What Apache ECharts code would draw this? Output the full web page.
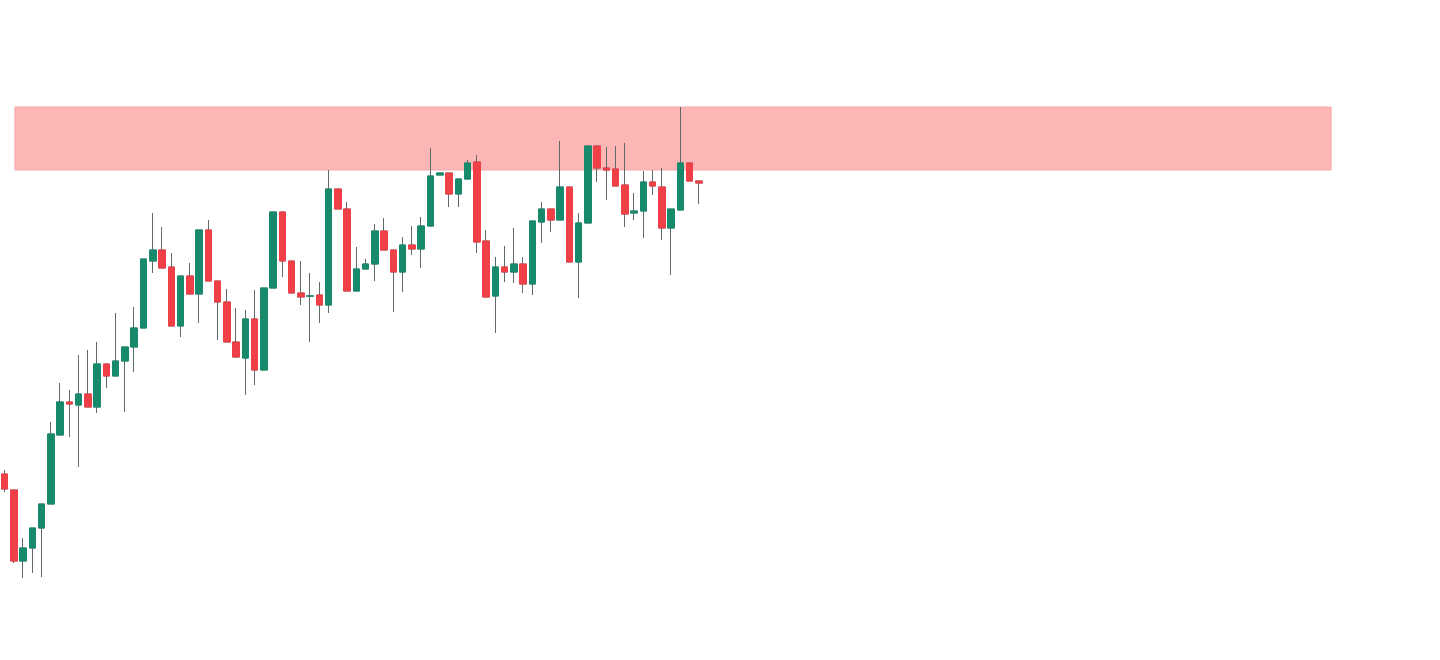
<!DOCTYPE html>
<html>
<head>
<meta charset="utf-8">
<script src="https://cdn.jsdelivr.net/npm/echarts@6/dist/echarts.min.js"></script>
<style>
html,body{margin:0;padding:0;background:#ffffff;}
#chart{width:1440px;height:660px;}
</style>
</head>
<body>
<div id="chart"></div>
<script>
// ---- data ----
var slotCount = 155;
var categories = Array.from({length: slotCount}, function (_, i) { return 'P' + (i + 1); });

var opens  = [186,170,99,112,132,156,225,258,255,266,253,296,284,299,313,332,399,410,393,334,
              384,366,430,379,358,318,302,341,290,372,448,399,367,364,365,355,471,451,369,391,
              396,429,410,388,415,411,434,485,487,466,481,498,419,364,393,388,396,376,438,451,
              440,473,398,437,514,492,491,475,447,449,478,473,432,450,497,479];
var closes = [171,99,112,132,156,226,258,256,266,253,296,284,299,313,332,401,410,392,334,384,
              366,430,379,358,318,303,341,290,372,448,399,367,363,364,355,471,451,369,391,396,
              429,410,388,415,411,434,484,487,466,481,497,418,363,393,388,396,376,439,451,440,
              473,398,437,514,492,490,474,446,449,478,474,432,451,497,479,477];
var lows   = [168,97,82,87,83,156,225,223,193,253,247,272,284,248,288,332,387,392,334,323,
              366,337,379,320,318,303,265,275,290,372,383,367,355,318,337,347,451,369,369,391,
              379,410,348,368,405,392,434,485,453,453,481,407,363,327,378,377,367,365,417,428,
              440,398,362,437,478,460,474,433,440,422,465,420,385,450,479,456];
var highs  = [190,170,122,132,156,238,277,270,305,310,318,296,347,313,353,401,447,433,407,384,
              397,430,440,379,371,352,350,370,372,448,448,399,399,387,378,490,471,458,413,401,
              436,442,410,423,434,443,512,487,487,481,500,505,430,403,414,432,403,439,458,451,
              519,473,447,514,514,513,514,517,467,489,490,492,451,553,497,479];

// resistance zone (price range and span in slot units)
var zoneLow = 490, zoneHigh = 553;
var zoneStart = 1.11, zoneEnd = 143.28;

// ---- build ----
var upColor = '#178a6c', downColor = '#ef3f47', wickColor = '#5f6b6b';
var fullData = opens.map(function (o, i) { return [o, closes[i], lows[i], highs[i]]; });
var bodyData = opens.map(function (o, i) {
  var c = closes[i];
  return [o, c, Math.min(o, c), Math.max(o, c)];
});

var chart = echarts.init(document.getElementById('chart'), null, {renderer: 'canvas'});
chart.setOption({
  animation: false,
  backgroundColor: '#ffffff',
  grid: {left: -2, top: 0, width: 1437, height: 660, containLabel: false},
  xAxis: [
    {type: 'category', data: categories, boundaryGap: true, show: false},
    {type: 'value', min: -0.5, max: slotCount - 0.5, show: false}
  ],
  yAxis: {type: 'value', min: 0, max: 660, show: false, splitLine: {show: false}},
  series: [
    {
      type: 'line', xAxisIndex: 1, data: [[zoneStart, zoneLow], [zoneEnd, zoneLow]],
      symbol: 'none', lineStyle: {opacity: 0}, silent: true, z: 1,
      markArea: {
        silent: true,
        itemStyle: {color: '#fdb6b6', borderColor: '#f7a9ac', borderWidth: 1},
        data: [[{xAxis: zoneStart, yAxis: zoneHigh}, {xAxis: zoneEnd, yAxis: zoneLow}]]
      }
    },
    {
      type: 'candlestick', data: fullData, barWidth: 7, z: 3,
      itemStyle: {color: upColor, color0: downColor, borderColor: wickColor, borderColor0: wickColor, borderWidth: 1}
    },
    {
      type: 'candlestick', data: bodyData, barWidth: 7, z: 4,
      itemStyle: {color: upColor, color0: downColor, borderColor: upColor, borderColor0: downColor, borderWidth: 1}
    }
  ]
});
</script>
</body>
</html>
